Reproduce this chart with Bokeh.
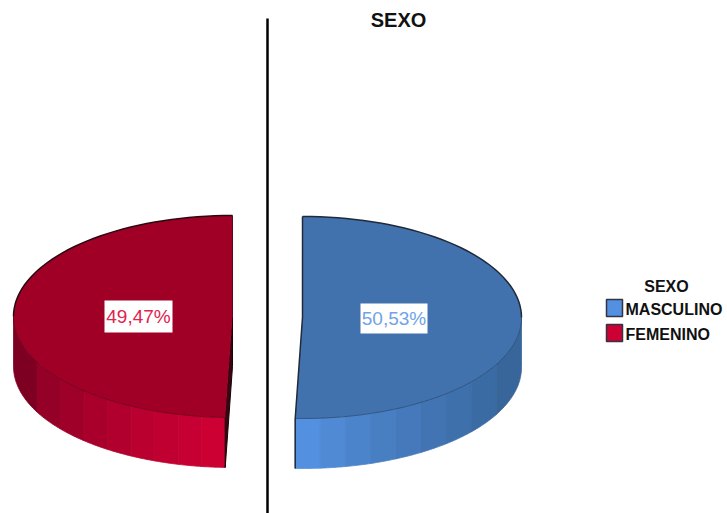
import numpy as np
from bokeh.plotting import figure
from bokeh.models import Range1d
from bokeh.core.properties import value
from bokeh.embed import file_html
from bokeh.resources import INLINE

categories = ["MASCULINO", "FEMENINO"]
percentages = [50.53, 49.47]
percent_labels = ["50,53%", "49,47%"]
title_text = "SEXO"

W, H = 727, 513
p = figure(width=W, height=H, output_backend="svg", toolbar_location=None,
           x_range=Range1d(0, W), y_range=Range1d(H, 0),
           min_border=0, outline_line_color=None)
p.axis.visible = False
p.grid.visible = False
p.background_fill_color = "white"
p.border_fill_color = "white"

RX, RY, DEPTH = 219, 101, 50
angle_start = [0.0, percentages[0] / 100 * 360]
angle_end = [percentages[0] / 100 * 360, 360.0]
centres = [(302, 317), (232, 316)]
tops = ["#4272AE", "#A10026"]
edge = ["#1F2A3A", "#2A0A12"]
ramp_gamma = [0.9, 0.6]


def rim(cx, cy, a):
    r = np.radians(a)
    return cx + RX * np.sin(r), cy - RY * np.cos(r)


def mix(c1, c2, t):
    a = [int(c1[i:i + 2], 16) for i in (1, 3, 5)]
    b = [int(c2[i:i + 2], 16) for i in (1, 3, 5)]
    return "#%02x%02x%02x" % tuple(round(u + (v - u) * t) for u, v in zip(a, b))


# side walls, in bands of equal width on screen
side_ramp = [("#5490E0", "#38669B"), ("#7D0022", "#CC0033")]
for i in range(2):
    cx, cy = centres[i]
    lo, hi = max(angle_start[i], 90), min(angle_end[i], 270)
    n = 9
    sines = np.linspace(np.sin(np.radians(lo)), np.sin(np.radians(hi)), n + 1)
    # walk the front arc from one end to the other, sine gives the screen x
    edges = np.degrees(np.pi - np.arcsin(np.clip(sines, -1, 1)))
    xs, ys = [], []
    for k in range(n):
        arc = np.linspace(edges[k], edges[k + 1], 12)
        x, y = rim(cx, cy, arc)
        xs.append(list(x) + list(x[::-1]))
        ys.append(list(y) + list((y + DEPTH)[::-1]))
    order = np.argsort([min(a) for a in xs])
    xs = [xs[j] for j in order]
    ys = [ys[j] for j in order]
    cols = [mix(side_ramp[i][0], side_ramp[i][1], (j / (n - 1)) ** ramp_gamma[i]) for j in range(n)]
    p.patches(xs, ys, fill_color=cols, line_color=cols, line_width=0.8)

# inner cut face visible on the Femenino slice
cx, cy = centres[1]
x0, y0 = rim(cx, cy, angle_start[1])
p.patch([cx, x0, x0, cx], [cy, y0, y0 + DEPTH, cy + DEPTH], fill_color="#3A0410",
        line_color="#1A0208", line_width=1)

# top faces
for i in range(2):
    cx, cy = centres[i]
    arc = np.linspace(angle_start[i], angle_end[i], 120)
    x, y = rim(cx, cy, arc)
    p.patch([cx] + list(x), [cy] + list(y), fill_color=tops[i], line_color=None)
    f = np.linspace(max(angle_start[i], 90), min(angle_end[i], 270), 60)
    fx, fy = rim(cx, cy, f)
    p.line(fx, fy, line_color=mix(tops[i], "#000000", 0.35), line_width=0.8)
    b = np.linspace(angle_start[i], 90, 40) if i == 0 else np.linspace(270, angle_end[i], 40)
    bx, by = rim(cx, cy, b)
    p.line(bx, by, line_color=edge[i], line_width=1.5)

# Masculino's straight edge
cx, cy = centres[0]
x1, y1 = rim(cx, cy, angle_end[0])
p.line([cx, cx, x1, x1], [cy - RY, cy, y1, y1 + DEPTH], line_color=edge[0], line_width=1.5)
# Femenino's back edge
cx, cy = centres[1]
p.line([cx, cx], [cy - RY, cy], line_color="#5A0A1C", line_width=1)

# divider
p.line([267, 267], [18, H], line_color="#000000", line_width=2.5)

# value labels
label_boxes = [(360, 427, 303, 333), (104, 172, 300, 332)]
label_colors = ["#6FA3E8", "#E0234F"]
for i in range(2):
    l, r, t, b = label_boxes[i]
    p.quad(left=l, right=r, top=t, bottom=b, fill_color="white", line_color=None)
    p.text([(l + r) / 2], [(t + b) / 2], text=[percent_labels[i]], text_color=label_colors[i],
           text_font=value("Liberation Sans"), text_font_size=value("19px"),
           text_align="center", text_baseline="middle")

# title
p.text([398], [19], text=[title_text], text_font=value("Liberation Sans"),
       text_font_style="bold", text_font_size=value("20px"), text_color="#111111",
       text_align="center", text_baseline="middle")

# legend
legend_fill = ["#5490E0", "#CC0033"]
sw_y = [299, 324]
txt_y = [309, 334]
p.text([666], [286], text=[title_text], text_font=value("Liberation Sans"),
       text_font_style="bold", text_font_size=value("16px"), text_color="#111111",
       text_align="center", text_baseline="middle")
for i in range(2):
    p.quad(left=606, right=622, top=sw_y[i], bottom=sw_y[i] + 17, fill_color=legend_fill[i],
           line_color="#333344", line_width=1.5)
    p.text([625], [txt_y[i]], text=[categories[i]], text_font=value("Liberation Sans"),
           text_font_style="bold", text_font_size=value("16px"), text_color="#111111",
           text_align="left", text_baseline="middle")

open("out.html", "w").write(file_html(p, INLINE))
